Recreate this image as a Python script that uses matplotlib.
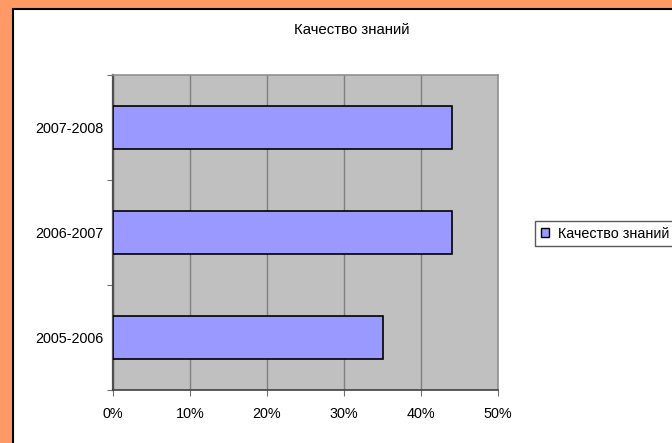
import matplotlib
matplotlib.use("Agg")
from matplotlib import pyplot as plt
from matplotlib.patches import Rectangle
from matplotlib.ticker import FixedLocator, PercentFormatter

plt.rcParams['font.family'] = ['Liberation Sans', 'DejaVu Sans']

# данные
years = ['2005-2006', '2006-2007', '2007-2008']
quality = [35, 44, 44]
title = 'Качество знаний'

fig = plt.figure(figsize=(6.72, 4.43), dpi=100)
fig.patch.set_facecolor('#FF9966')

# белая область диаграммы с чёрной рамкой (справа и снизу обрезана)
fig.patches.append(Rectangle((12.5 / 672, -0.1), 1.2, 1 - 8.5 / 443 + 0.1,
                             transform=fig.transFigure, facecolor='white',
                             edgecolor='black', linewidth=1.5, zorder=-10))

ax = fig.add_axes([113 / 672, 53 / 443, 385 / 672, 315 / 443])
ax.set_facecolor('#C0C0C0')

pos = list(range(len(years)))
ax.barh(pos, quality, height=0.41, color='#9999FF', edgecolor='black',
        linewidth=1.2, zorder=3)

ax.set_xlim(0, 50)
ax.set_ylim(-0.5, len(years) - 0.5)
ax.set_xticks([0, 10, 20, 30, 40, 50])
ax.xaxis.set_major_formatter(PercentFormatter(decimals=0))
ax.grid(axis='x', color='#808080', linewidth=1, zorder=1)

# метки категорий между делениями
ax.yaxis.set_major_locator(FixedLocator([-0.5, 0.5, 1.5, 2.5]))
ax.yaxis.set_minor_locator(FixedLocator(pos))
ax.set_yticklabels([], minor=False)
ax.set_yticklabels(years, minor=True)
ax.tick_params(axis='y', which='minor', length=0, pad=7, labelsize=10.4)
ax.tick_params(axis='y', which='major', length=4, color='#707070')
ax.tick_params(axis='x', length=4, color='#707070', pad=8, labelsize=10.4)

for s in ['top', 'right']:
    ax.spines[s].set_color('#909090')
    ax.spines[s].set_linewidth(1.2)
ax.spines['left'].set_color('#505050')
ax.spines['left'].set_linewidth(1.6)
ax.spines['bottom'].set_color('#404040')
ax.spines['bottom'].set_linewidth(1.2)

fig.text(352 / 672, 1 - 30 / 443, title, ha='center', va='center', fontsize=10.8)

leg = fig.legend([Rectangle((0, 0), 1, 1, facecolor='#9999FF', edgecolor='black')],
                 [title], loc='center left',
                 bbox_to_anchor=(535 / 672, 1 - 233.5 / 443), fontsize=10.4,
                 frameon=True, fancybox=False, handlelength=0.6, handleheight=0.6,
                 handletextpad=0.6, borderpad=0.4, borderaxespad=0)
leg.get_frame().set_edgecolor('#303030')
leg.get_frame().set_linewidth(1)

fig.savefig('out.png', dpi=100, facecolor=fig.get_facecolor())
